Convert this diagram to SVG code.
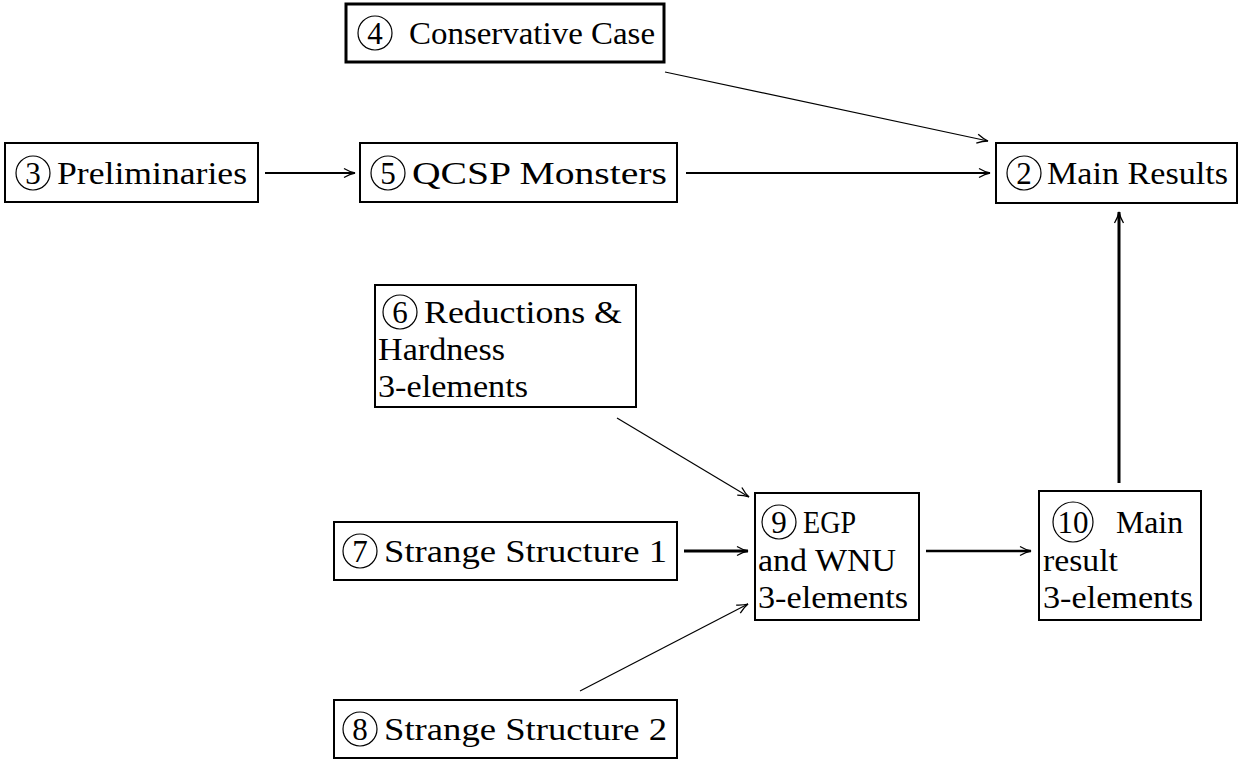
<svg xmlns="http://www.w3.org/2000/svg" width="1255" height="764" viewBox="0 0 1255 764">
<style>
.box{fill:#fff;stroke:#000;stroke-width:2}
.thick{stroke-width:3}
text{font-family:'Liberation Serif','Times New Roman',serif;font-size:31px;fill:#000}
.c{fill:none;stroke:#000;stroke-width:1.2}
.e{fill:none;stroke:#000}
</style>
<defs>
<marker id="ah" markerUnits="userSpaceOnUse" markerWidth="16" markerHeight="12" viewBox="-13 -6 16 12" refX="0" refY="0" orient="auto">
<path d="M-11,-4.5 Q-5,-1 0,0 Q-5,1 -11,4.5" fill="none" stroke="#000" stroke-width="1.3"/>
</marker>
</defs>
<rect width="1255" height="764" fill="#fff"/>
<g id="connectors">
<line class="e" x1="265" y1="173" x2="355" y2="173" stroke-width="2" marker-end="url(#ah)"/>
<line class="e" x1="686" y1="173" x2="990" y2="173" stroke-width="2" marker-end="url(#ah)"/>
<line class="e" x1="665" y1="72" x2="988" y2="141" stroke-width="1.2" marker-end="url(#ah)"/>
<line class="e" x1="1119" y1="483" x2="1119" y2="212" stroke-width="3" marker-end="url(#ah)"/>
<line class="e" x1="617" y1="418" x2="749" y2="497" stroke-width="1.2" marker-end="url(#ah)"/>
<line class="e" x1="684" y1="551" x2="748" y2="551" stroke-width="3" marker-end="url(#ah)"/>
<line class="e" x1="580" y1="691" x2="748" y2="604" stroke-width="1.2" marker-end="url(#ah)"/>
<line class="e" x1="926" y1="551" x2="1031" y2="551" stroke-width="2.5" marker-end="url(#ah)"/>
</g>
<g id="n4">
<rect class="box thick" x="346" y="4" width="318" height="58"/>
<circle class="c" cx="375" cy="33" r="17"/>
<text x="375" y="44" text-anchor="middle">4</text>
<text x="409" y="44" textLength="246" lengthAdjust="spacingAndGlyphs">Conservative Case</text>
</g>
<g id="n3">
<rect class="box" x="5" y="143" width="253" height="59"/>
<circle class="c" cx="33" cy="173" r="17"/>
<text x="33" y="184" text-anchor="middle">3</text>
<text x="57" y="184" textLength="190" lengthAdjust="spacingAndGlyphs">Preliminaries</text>
</g>
<g id="n5">
<rect class="box" x="360" y="143" width="317" height="59"/>
<circle class="c" cx="388" cy="173" r="17"/>
<text x="388" y="184" text-anchor="middle">5</text>
<text x="412" y="184" textLength="255" lengthAdjust="spacingAndGlyphs">QCSP Monsters</text>
</g>
<g id="n2">
<rect class="box" x="996" y="143" width="241" height="60"/>
<circle class="c" cx="1024" cy="173" r="17"/>
<text x="1024" y="184" text-anchor="middle">2</text>
<text x="1047" y="184" textLength="181" lengthAdjust="spacingAndGlyphs">Main Results</text>
</g>
<g id="n6">
<rect class="box" x="375" y="285" width="261" height="122"/>
<circle class="c" cx="400" cy="312" r="17"/>
<text x="400" y="323" text-anchor="middle">6</text>
<text x="424" y="323" textLength="198" lengthAdjust="spacingAndGlyphs">Reductions &amp;</text>
<text x="378" y="360" textLength="127" lengthAdjust="spacingAndGlyphs">Hardness</text>
<text x="378" y="397" textLength="150" lengthAdjust="spacingAndGlyphs">3-elements</text>
</g>
<g id="n7">
<rect class="box" x="334" y="522" width="343" height="58"/>
<circle class="c" cx="360" cy="551" r="17"/>
<text x="360" y="562" text-anchor="middle">7</text>
<text x="384" y="562" textLength="283" lengthAdjust="spacingAndGlyphs">Strange Structure 1</text>
</g>
<g id="n8">
<rect class="box" x="334" y="700" width="343" height="58"/>
<circle class="c" cx="360" cy="729" r="17"/>
<text x="360" y="740" text-anchor="middle">8</text>
<text x="384" y="740" textLength="283" lengthAdjust="spacingAndGlyphs">Strange Structure 2</text>
</g>
<g id="n9">
<rect class="box" x="755" y="493" width="164" height="127"/>
<circle class="c" cx="779" cy="522" r="17"/>
<text x="779" y="533" text-anchor="middle">9</text>
<text x="803" y="533" textLength="53" lengthAdjust="spacingAndGlyphs">EGP</text>
<text x="758" y="571" textLength="138" lengthAdjust="spacingAndGlyphs">and WNU</text>
<text x="758" y="608" textLength="150" lengthAdjust="spacingAndGlyphs">3-elements</text>
</g>
<g id="n10">
<rect class="box" x="1039" y="491" width="162" height="129"/>
<circle class="c" cx="1073" cy="522" r="20"/>
<text x="1073" y="533" text-anchor="middle">10</text>
<text x="1116" y="533" textLength="67" lengthAdjust="spacingAndGlyphs">Main</text>
<text x="1043" y="571" textLength="75" lengthAdjust="spacingAndGlyphs">result</text>
<text x="1043" y="608" textLength="150" lengthAdjust="spacingAndGlyphs">3-elements</text>
</g>
</svg>
